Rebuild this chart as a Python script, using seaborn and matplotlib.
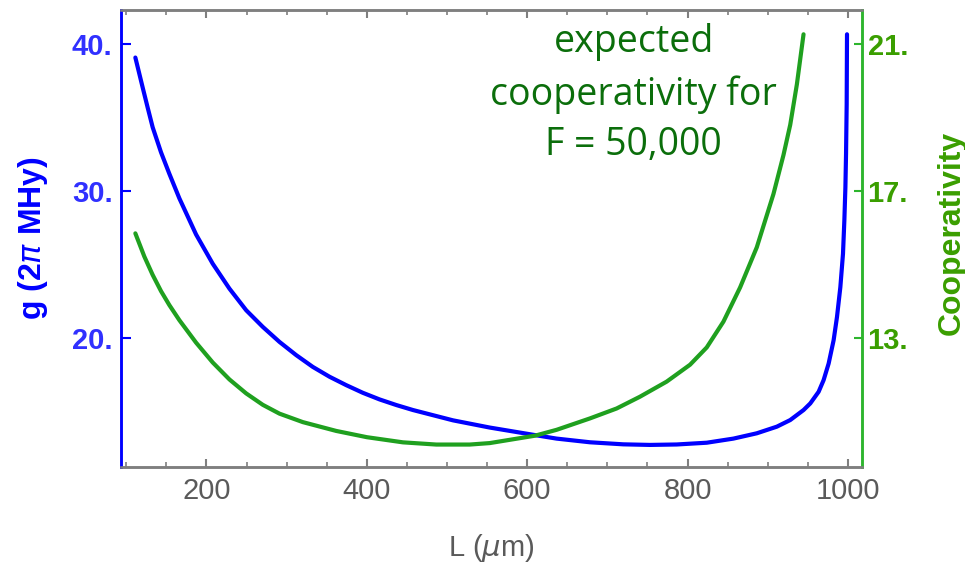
import matplotlib
matplotlib.use("Agg")
import matplotlib.pyplot as plt
from matplotlib.ticker import FixedLocator, MultipleLocator
import seaborn as sns

# data
L_g = [111.4, 120.5, 126.7, 133.0, 143.4, 153.8, 166.3, 187.1, 207.9, 228.7, 249.6, 270.3,
       291.1, 312.0, 332.7, 353.6, 374.4, 395.1, 416.0, 436.8, 457.6, 507.5, 553.3,
       609.5, 636.6, 678.2, 719.8, 753.1, 786.4, 823.9, 857.2, 886.3, 911.3, 928.0,
       944.6, 953.0, 963.4, 969.6, 975.9, 982.1, 986.3, 990.5, 993.8, 995.5, 996.8,
       997.6, 998.4, 998.8]
g_vals = [39.07, 37.04, 35.68, 34.33, 32.63, 31.17, 29.50, 27.05, 25.06, 23.37, 21.90, 20.77,
          19.75, 18.85, 18.05, 17.38, 16.81, 16.29, 15.84, 15.46, 15.12, 14.42, 13.93,
          13.42, 13.18, 12.93, 12.79, 12.75, 12.78, 12.90, 13.18, 13.54, 13.99, 14.44,
          15.12, 15.57, 16.36, 17.15, 18.28, 19.86, 21.44, 23.47, 25.74, 28.0, 30.26,
          32.52, 35.9, 40.65]

L_c = [111.4, 122.6, 133.0, 143.4, 153.8, 166.3, 187.1, 207.9, 228.7, 249.6, 270.3, 291.1,
       320.2, 361.9, 400.1, 445.1, 486.7, 528.3, 553.3, 609.5, 636.6, 678.2, 711.5,
       740.6, 773.9, 803.1, 823.9, 844.7, 865.5, 886.3, 907.1, 919.6, 928.0, 936.3, 944.6]
coop = [15.85, 15.22, 14.72, 14.28, 13.90, 13.49, 12.88, 12.34, 11.88, 11.50, 11.19, 10.95,
        10.72, 10.48, 10.31, 10.17, 10.11, 10.11, 10.15, 10.35, 10.51, 10.82, 11.09,
        11.41, 11.82, 12.28, 12.75, 13.45, 14.38, 15.47, 16.92, 17.98, 18.80, 19.90, 21.26]

x_ticks = [200, 400, 600, 800, 1000]
g_ticks = [20, 30, 40]
g_labels = ["20.", "30.", "40."]
c_ticks = [13, 17, 21]
c_labels = ["13.", "17.", "21."]

note_lines = ["expected", "cooperativity for", "F = 50,000"]

sns.set_style("white")
plt.rcParams["font.family"] = ["Liberation Sans", "DejaVu Sans"]

blue = "#0000ff"
green = "#1fa01f"
gray = "#7f7f7f"

fig = plt.figure(figsize=(9.65, 5.69), dpi=100)
ax = fig.add_axes([121 / 965, 1 - 467 / 569, 741 / 965, 457 / 569])
ax2 = ax.twinx()

sns.lineplot(x=L_g, y=g_vals, ax=ax, color=blue, lw=3, sort=False)
sns.lineplot(x=L_c, y=coop, ax=ax2, color=green, lw=3, sort=False)

ax.set_xlim(93.5, 1017.5)
ax.set_ylim(11.25, 42.3)
ax2.set_ylim(9.5, 21.92)

# x axis (bottom + mirrored top)
ax.xaxis.set_major_locator(FixedLocator(x_ticks))
ax.xaxis.set_minor_locator(MultipleLocator(50))
ax.tick_params(axis="x", which="both", direction="in", top=True, bottom=True,
               color=gray, labelcolor="#5a5a5a", labelsize=21, pad=7)
ax.tick_params(axis="x", which="major", length=6, width=1.5)
ax.tick_params(axis="x", which="minor", length=3.5, width=1.2)

# left axis
ax.yaxis.set_major_locator(FixedLocator(g_ticks))
ax.set_yticklabels(g_labels, fontweight="bold")
ax.tick_params(axis="y", direction="in", length=7, width=1.5, color=blue,
               labelcolor="#3030ff", labelsize=21, pad=6)

# right axis
ax2.yaxis.set_major_locator(FixedLocator(c_ticks))
ax2.set_yticklabels(c_labels, fontweight="bold")
ax2.tick_params(axis="y", direction="in", length=6, width=1.5, color="#2db52d",
                labelcolor="#3a9e00", labelsize=21, pad=4)

for a in (ax, ax2):
    a.spines["top"].set_color(gray)
    a.spines["bottom"].set_color(gray)
    a.spines["left"].set_color(blue)
    a.spines["right"].set_color("#2db52d")
    for s in a.spines.values():
        s.set_linewidth(1.8)

ax.set_xlabel("L ($\\mu$m)", fontsize=21, color="#5a5a5a")
ax.xaxis.set_label_coords(0.5, -0.142)
ax.set_ylabel("g (2$\\pi$ MHy)", fontsize=23, fontweight="bold", color=blue)
ax.yaxis.set_label_coords(-0.096, 0.5)
ax2.set_ylabel("Cooperativity", fontsize=23, fontweight="bold", color="#3a9e00")
ax2.yaxis.set_label_coords(1.101, 0.512)

# annotation, one line at a time
for line, yb in zip(note_lines, [0.908, 0.792, 0.683]):
    ax.text(0.692, yb, line, transform=ax.transAxes, ha="center", va="baseline",
            fontsize=27, color="#0b6e0b", family=["Open Sans", "DejaVu Sans"])

fig.savefig("out.png", dpi=100)
